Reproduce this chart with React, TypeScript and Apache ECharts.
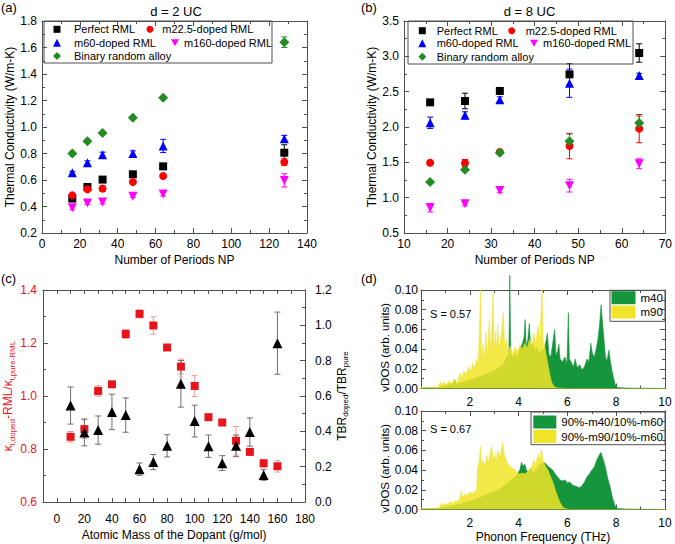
import React, { useEffect, useRef } from 'react';
import * as echarts from 'echarts';

const F = '"Liberation Sans", Arial, Helvetica, sans-serif';
const AX = '#505050';
const C_BLACK = '#000000';
const C_RED = '#ff0000';
const C_BLUE = '#0000ff';
const C_MAG = '#ff00ff';
const C_GREEN = '#238b23';
const C_RED_C = '#e8141c';
const C_GREEN_D = '#15963c';
const C_YELLOW_D = '#f0e428';

// ---------- Panel (a): d = 2 UC ----------
const periodsA = [16, 24, 32, 48, 64, 128];
const aPerfect = [0.46, 0.547, 0.603, 0.643, 0.703, 0.806];
const aPerfectErr = [0.01, 0.01, 0.01, 0.01, 0.012, 0.06];
const aM22 = [0.484, 0.53, 0.535, 0.585, 0.63, 0.735];
const aM22Err = [0.015, 0.015, 0.02, 0.01, 0.015, 0.025];
const aM60 = [0.655, 0.73, 0.79, 0.80, 0.857, 0.912];
const aM60Err = [0.01, 0.015, 0.02, 0.02, 0.05, 0.025];
const aM160 = [0.39, 0.426, 0.434, 0.477, 0.494, 0.597];
const aM160Err = [0.015, 0.01, 0.015, 0.01, 0.015, 0.05];
const aBinary = [0.80, 0.892, 0.955, 1.07, 1.22, 1.64];
const aBinaryErr = [0.01, 0.01, 0.01, 0.01, 0.01, 0.04];

// ---------- Panel (b): d = 8 UC ----------
const periodsB = [16, 24, 32, 48, 64];
const bPerfect = [2.349, 2.368, 2.51, 2.745, 3.047];
const bPerfectErr = [0.02, 0.11, 0.03, 0.15, 0.13];
const bM22 = [1.495, 1.49, 1.646, 1.73, 1.977];
const bM22Err = [0.02, 0.05, 0.02, 0.18, 0.2];
const bM60 = [2.06, 2.165, 2.387, 2.62, 2.73];
const bM60Err = [0.08, 0.05, 0.04, 0.2, 0.03];
const bM160 = [0.858, 0.915, 1.10, 1.17, 1.48];
const bM160Err = [0.06, 0.03, 0.03, 0.09, 0.07];
const bBinary = [1.222, 1.396, 1.637, 1.80, 2.055];
const bBinaryErr = [0.02, 0.02, 0.02, 0.1, 0.1];

// ---------- Panel (c) ----------
const massC = [10, 20, 30, 40, 50, 60, 70, 80, 90, 100, 110, 120, 130, 140, 150, 160];
const cKappa = [0.846, 0.875, 1.019, 1.044, 1.234, 1.31, 1.266, 1.183, 1.111, 1.038, 0.92, 0.90, 0.831, 0.789, 0.746, 0.735];
const cKappaErr = [0.02, 0.035, 0.02, 0.008, 0.017, 0.015, 0.033, 0.01, 0.028, 0.04, 0.008, 0.008, 0.054, 0.006, 0.014, 0.022];
const cTbr = [0.546, 0.394, 0.407, 0.51, 0.492, 0.186, 0.226, 0.318, 0.669, 0.458, 0.316, 0.22, 0.318, 0.396, 0.153, 0.899];
const cTbrErr = [0.105, 0.076, 0.08, 0.10, 0.097, 0.035, 0.043, 0.063, 0.132, 0.09, 0.063, 0.042, 0.061, 0.08, 0.03, 0.176];

// ---------- Panel (d): vDOS spectra [THz, value] ----------
const dTopM40 = [[0,0.0005],[0.7,0.001],[0.9,0.002],[1.1,0.003],[1.3,0.005],[1.38,0.009],[1.45,0.004],[1.6,0.006],[1.8,0.007],[2.0,0.009],[2.2,0.01],[2.4,0.012],[2.6,0.014],[2.8,0.016],[3.0,0.018],[3.2,0.021],[3.4,0.025],[3.5,0.032],[3.6,0.034],[3.64,0.115],[3.68,0.036],[3.75,0.031],[3.85,0.036],[3.95,0.03],[4.05,0.04],[4.15,0.045],[4.22,0.052],[4.27,0.07],[4.31,0.042],[4.38,0.05],[4.44,0.066],[4.5,0.04],[4.58,0.046],[4.65,0.038],[4.75,0.042],[4.85,0.035],[4.95,0.04],[5.05,0.038],[5.12,0.048],[5.18,0.056],[5.24,0.035],[5.32,0.032],[5.42,0.05],[5.48,0.06],[5.53,0.034],[5.6,0.038],[5.65,0.045],[5.7,0.03],[5.8,0.027],[5.9,0.032],[5.98,0.025],[6.04,0.077],[6.08,0.03],[6.15,0.027],[6.25,0.022],[6.32,0.03],[6.4,0.021],[6.5,0.024],[6.6,0.019],[6.7,0.022],[6.8,0.03],[6.88,0.027],[6.96,0.046],[7.02,0.036],[7.1,0.032],[7.18,0.04],[7.25,0.05],[7.32,0.065],[7.38,0.085],[7.43,0.07],[7.5,0.05],[7.56,0.032],[7.62,0.028],[7.7,0.039],[7.76,0.028],[7.83,0.018],[7.9,0.01],[7.96,0.004],[8.05,0.001],[8.4,0.0005],[10,0]];
const dTopM90 = [[0,0.001],[0.4,0.001],[0.7,0.0015],[0.8,0.007],[0.85,0.004],[0.95,0.006],[1.05,0.004],[1.15,0.008],[1.25,0.005],[1.35,0.009],[1.45,0.006],[1.55,0.011],[1.62,0.016],[1.68,0.01],[1.75,0.018],[1.85,0.014],[1.95,0.022],[2.05,0.017],[2.12,0.026],[2.2,0.02],[2.28,0.03],[2.35,0.024],[2.44,0.1],[2.48,0.03],[2.54,0.045],[2.6,0.028],[2.66,0.057],[2.72,0.032],[2.8,0.07],[2.86,0.035],[2.95,0.097],[3.0,0.04],[3.06,0.058],[3.1,0.036],[3.14,0.066],[3.2,0.04],[3.28,0.052],[3.37,0.077],[3.43,0.042],[3.5,0.05],[3.56,0.036],[3.65,0.043],[3.75,0.035],[3.85,0.042],[3.95,0.037],[4.05,0.044],[4.15,0.04],[4.25,0.046],[4.35,0.041],[4.45,0.05],[4.55,0.043],[4.63,0.056],[4.7,0.045],[4.8,0.064],[4.87,0.048],[4.96,0.1],[5.0,0.05],[5.06,0.044],[5.12,0.036],[5.2,0.025],[5.28,0.014],[5.36,0.006],[5.45,0.002],[5.6,0.0005],[6,0],[10,0]];
const dBotM40 = [[0,0.0005],[0.7,0.001],[0.9,0.002],[1.1,0.003],[1.3,0.004],[1.5,0.005],[1.7,0.006],[1.9,0.008],[2.1,0.009],[2.3,0.011],[2.5,0.013],[2.7,0.015],[2.9,0.017],[3.1,0.019],[3.3,0.022],[3.5,0.026],[3.7,0.03],[3.9,0.034],[4.05,0.04],[4.12,0.048],[4.18,0.044],[4.25,0.046],[4.32,0.04],[4.4,0.038],[4.5,0.042],[4.6,0.037],[4.7,0.04],[4.8,0.043],[4.9,0.046],[5.0,0.048],[5.1,0.047],[5.2,0.044],[5.3,0.042],[5.4,0.04],[5.5,0.036],[5.6,0.033],[5.7,0.03],[5.8,0.029],[5.9,0.03],[6.0,0.027],[6.1,0.028],[6.2,0.025],[6.3,0.024],[6.4,0.023],[6.5,0.022],[6.6,0.024],[6.7,0.028],[6.8,0.033],[6.9,0.036],[7.0,0.04],[7.1,0.043],[7.2,0.05],[7.3,0.055],[7.38,0.058],[7.45,0.052],[7.55,0.044],[7.65,0.032],[7.75,0.023],[7.85,0.012],[7.95,0.004],[8.05,0.001],[8.4,0.0005],[10,0]];
const dBotM90 = [[0,0.001],[0.5,0.001],[0.75,0.002],[0.8,0.006],[0.9,0.004],[1.0,0.006],[1.1,0.005],[1.2,0.008],[1.3,0.006],[1.4,0.009],[1.5,0.008],[1.6,0.012],[1.65,0.02],[1.7,0.012],[1.8,0.016],[1.9,0.014],[2.0,0.018],[2.1,0.016],[2.2,0.018],[2.28,0.02],[2.32,0.042],[2.38,0.048],[2.44,0.064],[2.48,0.045],[2.55,0.05],[2.62,0.044],[2.7,0.055],[2.76,0.047],[2.84,0.058],[2.9,0.065],[2.95,0.05],[3.02,0.056],[3.08,0.048],[3.15,0.06],[3.22,0.052],[3.28,0.058],[3.35,0.068],[3.42,0.055],[3.5,0.05],[3.58,0.046],[3.66,0.044],[3.75,0.042],[3.85,0.04],[3.95,0.037],[4.05,0.036],[4.15,0.037],[4.25,0.036],[4.35,0.038],[4.45,0.04],[4.55,0.044],[4.62,0.05],[4.7,0.046],[4.8,0.056],[4.87,0.05],[4.93,0.061],[5.0,0.05],[5.1,0.044],[5.2,0.04],[5.3,0.034],[5.4,0.028],[5.5,0.02],[5.6,0.013],[5.7,0.007],[5.8,0.003],[5.9,0.001],[6.1,0],[10,0]];

const DOWN_TRI = 'path://M0,0L10,0L5,8.66Z';

const errRender = (color: string, half: number) => (params: any, api: any) => {
  const x = api.value(0), y = api.value(1), e = api.value(2);
  const p1 = api.coord([x, y + e]);
  const p2 = api.coord([x, y - e]);
  const style = { stroke: color, lineWidth: 1, fill: 'none' };
  return {
    type: 'group',
    children: [
      { type: 'line', shape: { x1: p1[0], y1: p1[1], x2: p2[0], y2: p2[1] }, style },
      { type: 'line', shape: { x1: p1[0] - half, y1: p1[1], x2: p1[0] + half, y2: p1[1] }, style },
      { type: 'line', shape: { x1: p2[0] - half, y1: p2[1], x2: p2[0] + half, y2: p2[1] }, style },
    ],
  };
};

const errSeries = (xs: number[], ys: number[], es: number[], color: string, xi: number, yi: number, half = 3) => ({
  type: 'custom',
  xAxisIndex: xi,
  yAxisIndex: yi,
  silent: true,
  z: 2,
  renderItem: errRender(color, half),
  encode: { x: 0, y: 1 },
  data: xs.map((x, i) => [x, ys[i], es[i]]),
});

const scatter = (name: string, xs: number[], ys: number[], symbol: string, size: number, color: string, xi: number, yi: number) => ({
  type: 'scatter',
  name,
  xAxisIndex: xi,
  yAxisIndex: yi,
  symbol,
  symbolSize: size,
  itemStyle: { color, opacity: 1 },
  z: 3,
  data: xs.map((x, i) => [x, ys[i]]),
});

const AL = { show: true, onZero: false, lineStyle: { color: AX, width: 1 } };
const TK = (len = 5) => ({ show: true, inside: true, length: len, lineStyle: { color: AX } });
const MT = { show: true, splitNumber: 2, length: 3, lineStyle: { color: AX } };
const lbl = (extra: any = {}) => ({ color: '#000', fontSize: 12, fontFamily: F, ...extra });
const NT = { color: '#000', fontSize: 12, fontFamily: F };

const valAx = (grid: number, min: number, max: number, interval: number, position: string, extra: any = {}) => ({
  type: 'value',
  gridIndex: grid,
  min,
  max,
  interval,
  position,
  axisLine: AL,
  axisTick: TK(),
  minorTick: MT,
  splitLine: { show: false },
  minorSplitLine: { show: false },
  ...extra,
});
const mirror = (grid: number, min: number, max: number, interval: number, position: string, extra: any = {}) =>
  valAx(grid, min, max, interval, position, { axisLabel: { show: false }, ...extra });

const fix = (d: number) => (v: number) => v.toFixed(d);

const xAxes = [
  valAx(0, 0, 140, 20, 'bottom', {
    axisLabel: lbl({ margin: 5 }),
    name: 'Number of Periods NP', nameLocation: 'middle', nameGap: 21, nameTextStyle: NT,
  }),
  mirror(0, 0, 140, 20, 'top'),
  valAx(1, 10, 70, 10, 'bottom', {
    axisLabel: lbl({ margin: 5 }),
    name: 'Number of Periods NP', nameLocation: 'middle', nameGap: 21, nameTextStyle: NT,
  }),
  mirror(1, 10, 70, 10, 'top'),
  valAx(2, -10, 180, 10, 'bottom', {
    minorTick: { show: false },
    axisTick: TK(4),
    axisLabel: lbl({ margin: 11, formatter: (v: number) => (v >= 0 && Math.round(v) % 20 === 0 ? String(Math.round(v)) : '') }),
    name: 'Atomic Mass of the Dopant (g/mol)', nameLocation: 'middle', nameGap: 27, nameTextStyle: NT,
  }),
  mirror(2, -10, 180, 10, 'top', { minorTick: { show: false }, axisTick: TK(4) }),
  valAx(3, 0, 10, 2, 'bottom', {
    axisLabel: lbl({ margin: 7, formatter: (v: number) => (v === 0 ? '' : String(v)) }),
  }),
  mirror(3, 0, 10, 2, 'top'),
  valAx(4, 0, 10, 2, 'bottom', {
    axisLabel: lbl({ margin: 7, formatter: (v: number) => (v === 0 ? '' : String(v)) }),
    name: 'Phonon Frequency (THz)', nameLocation: 'middle', nameGap: 21, nameTextStyle: NT,
  }),
  mirror(4, 0, 10, 2, 'top'),
];

const subRich = (color: string) => ({
  k: { fontSize: 12, lineHeight: 16, color, fontFamily: F },
  s: { fontSize: 8, lineHeight: 8, verticalAlign: 'bottom', color, fontFamily: F },
});

const yAxes = [
  valAx(0, 0.2, 1.8, 0.2, 'left', {
    axisLabel: lbl({ margin: 5, formatter: fix(1) }),
    name: 'Thermal Conductivity (W/m-K)', nameLocation: 'middle', nameGap: 24, nameTextStyle: NT,
  }),
  mirror(0, 0.2, 1.8, 0.2, 'right'),
  valAx(1, 0.5, 3.5, 0.5, 'left', {
    axisLabel: lbl({ margin: 5, formatter: fix(1) }),
    name: 'Thermal Conductivity (W/m-K)', nameLocation: 'middle', nameGap: 24, nameTextStyle: NT,
  }),
  mirror(1, 0.5, 3.5, 0.5, 'right'),
  valAx(2, 0.6, 1.4, 0.2, 'left', {
    axisLabel: lbl({ margin: 6, color: C_RED_C, formatter: fix(1) }),
    name: '{k|κ}{s|l,doped}{k|-RML/κ}{s|l,pure-RML}', nameLocation: 'middle', nameGap: 27,
    nameTextStyle: { color: C_RED_C, fontSize: 12, fontFamily: F, rich: subRich(C_RED_C) },
  }),
  valAx(2, 0, 1.2, 0.2, 'right', {
    axisLabel: lbl({ margin: 10, formatter: fix(1) }),
    name: '{k|TBR}{s|doped}{k|/TBR}{s|pure}', nameLocation: 'middle', nameGap: 26,
    nameTextStyle: { color: '#000', fontSize: 12, fontFamily: F, rich: subRich('#000') },
  }),
  valAx(3, 0, 0.1, 0.02, 'left', {
    axisLabel: lbl({ margin: 3, formatter: fix(2) }),
    name: 'vDOS (arb. units)', nameLocation: 'middle', nameGap: 8,
    nameTextStyle: { ...NT, fontSize: 11.5, padding: [0, 16, 0, 0] },
  }),
  mirror(3, 0, 0.1, 0.02, 'right'),
  valAx(4, 0, 0.1, 0.02, 'left', {
    axisLabel: lbl({ margin: 3, formatter: fix(2) }),
    name: 'vDOS (arb. units)', nameLocation: 'middle', nameGap: 8,
    nameTextStyle: { ...NT, fontSize: 11.5, padding: [0, 16, 0, 0] },
  }),
  mirror(4, 0, 0.1, 0.02, 'right'),
];

const legendItem = (name: string, icon: string, size: number, left: number, centerY: number, pad: number) => ({
  data: [{ name, icon }],
  left,
  top: centerY - 6.5,
  padding: 0,
  itemWidth: size,
  itemHeight: size,
  selectedMode: false,
  textStyle: { fontSize: 11, fontFamily: F, color: '#000', lineHeight: 13, padding: [0, 0, 0, pad] },
});

const legends = [
  legendItem('Perfect RML', 'rect', 7, 53.5, 29.3, 8.5),
  legendItem('m60-doped RML', 'triangle', 8, 53, 42.7, 8),
  legendItem('Binary random alloy', 'diamond', 8, 53, 56, 8),
  legendItem('m22.5-doped RML', 'circle', 7, 146.5, 29.3, 3.8),
  legendItem('m160-doped RML', DOWN_TRI, 8, 171, 42.7, 0),
  legendItem('Perfect RML', 'rect', 7, 418.8, 30.7, 5.9),
  legendItem('m60-doped RML', 'triangle', 8, 418.3, 43.3, 5.4),
  legendItem('Binary random alloy', 'diamond', 8, 418.3, 56.7, 5.4),
  legendItem('m22.5-doped RML', 'circle', 7, 508.2, 30.7, 5.5),
  legendItem('m160-doped RML', DOWN_TRI, 8, 530, 43.3, 0),
  {
    data: [{ name: 'm40', icon: 'rect' }, { name: 'm90', icon: 'rect' }],
    orient: 'vertical', left: 611.5, top: 291.2, padding: 0, itemWidth: 24, itemHeight: 13, itemGap: 1.3,
    selectedMode: false,
    textStyle: { fontSize: 11.5, fontFamily: F, color: '#000', lineHeight: 13 },
  },
  {
    data: [{ name: '90%-m40/10%-m60', icon: 'rect' }, { name: '90%-m90/10%-m60', icon: 'rect' }],
    orient: 'vertical', left: 533.3, top: 415.5, padding: 0, itemWidth: 23, itemHeight: 13, itemGap: 1.5,
    selectedMode: false,
    textStyle: { fontSize: 11.5, fontFamily: F, color: '#000', lineHeight: 13 },
  },
];

const areaSeries = (name: string, data: number[][], color: string, opacity: number, xi: number, yi: number, z: number, clip = true) => ({
  type: 'line',
  name,
  xAxisIndex: xi,
  yAxisIndex: yi,
  data,
  symbol: 'none',
  showSymbol: false,
  clip,
  z,
  itemStyle: { color },
  lineStyle: { color, width: 0.6, opacity },
  areaStyle: { color, opacity },
});

const panelSeries = (xs: number[], sets: any[], xi: number, yi: number) => {
  const out: any[] = [];
  sets.forEach((s) => {
    out.push(errSeries(xs, s.v, s.e, s.color, xi, yi, 3));
    out.push(scatter(s.name, xs, s.v, s.symbol, s.size, s.color, xi, yi));
  });
  return out;
};

const setsA = [
  { name: 'Perfect RML', v: aPerfect, e: aPerfectErr, color: C_BLACK, symbol: 'rect', size: 8 },
  { name: 'm22.5-doped RML', v: aM22, e: aM22Err, color: C_RED, symbol: 'circle', size: 8 },
  { name: 'm60-doped RML', v: aM60, e: aM60Err, color: C_BLUE, symbol: 'triangle', size: 9 },
  { name: 'm160-doped RML', v: aM160, e: aM160Err, color: C_MAG, symbol: DOWN_TRI, size: 9 },
  { name: 'Binary random alloy', v: aBinary, e: aBinaryErr, color: C_GREEN, symbol: 'diamond', size: 10 },
];
const setsB = [
  { name: 'Perfect RML', v: bPerfect, e: bPerfectErr, color: C_BLACK, symbol: 'rect', size: 8 },
  { name: 'm22.5-doped RML', v: bM22, e: bM22Err, color: C_RED, symbol: 'circle', size: 8 },
  { name: 'm60-doped RML', v: bM60, e: bM60Err, color: C_BLUE, symbol: 'triangle', size: 9 },
  { name: 'm160-doped RML', v: bM160, e: bM160Err, color: C_MAG, symbol: DOWN_TRI, size: 9 },
  { name: 'Binary random alloy', v: bBinary, e: bBinaryErr, color: C_GREEN, symbol: 'diamond', size: 10 },
];

const series: any[] = [
  ...panelSeries(periodsA, setsA, 0, 0),
  ...panelSeries(periodsB, setsB, 2, 2),
  errSeries(massC, cKappa, cKappaErr, '#f29a9a', 4, 4, 3),
  scatter('κ ratio', massC, cKappa, 'rect', 8, C_RED_C, 4, 4),
  errSeries(massC, cTbr, cTbrErr, '#6e6e6e', 4, 5, 3),
  scatter('TBR ratio', massC, cTbr, 'triangle', 10, C_BLACK, 4, 5),
  areaSeries('m40', dTopM40, C_GREEN_D, 1, 6, 6, 2, false),
  areaSeries('m90', dTopM90, C_YELLOW_D, 0.85, 6, 6, 3),
  areaSeries('90%-m40/10%-m60', dBotM40, C_GREEN_D, 1, 8, 8, 2),
  areaSeries('90%-m90/10%-m60', dBotM90, C_YELLOW_D, 0.85, 8, 8, 3),
];

const txt = (text: string, x: number, y: number, size: number, align = 'center', color = '#000') => ({
  type: 'text',
  x,
  y,
  silent: true,
  style: { text, fontSize: size, fontFamily: F, fill: color, textAlign: align, textVerticalAlign: 'middle' },
});
const box = (x: number, y: number, w: number, h: number) => ({
  type: 'rect',
  silent: true,
  z: 10,
  shape: { x, y, width: w, height: h },
  style: { fill: 'none', stroke: AX, lineWidth: 1 },
});

const option: any = {
  animation: false,
  backgroundColor: '#ffffff',
  textStyle: { fontFamily: F },
  grid: [
    { left: 42, top: 21, width: 265, height: 212 },
    { left: 404, top: 21, width: 264, height: 212 },
    { left: 43, top: 290, width: 262, height: 212 },
    { left: 421, top: 290, width: 244, height: 98.5 },
    { left: 421, top: 411, width: 244, height: 98.5 },
  ],
  xAxis: xAxes,
  yAxis: yAxes,
  legend: legends,
  series,
  graphic: [
    txt('(a)', 1, 7, 13, 'left'),
    txt('(b)', 361, 7, 13, 'left'),
    txt('(c)', 1, 278, 13, 'left'),
    txt('(d)', 361, 278, 13, 'left'),
    txt('d = 2 UC', 176, 11.5, 13),
    txt('d = 8 UC', 529.5, 11.5, 13),
    txt('S = 0.57', 430, 314, 11, 'left'),
    txt('S = 0.67', 430, 428.5, 11, 'left'),
    box(44, 21, 228, 42),
    box(408, 21, 225, 43),
    box(610, 290.3, 55, 31),
    box(531, 412, 134, 32.7),
  ],
};

export default function App() {
  const ref = useRef<HTMLDivElement>(null);
  useEffect(() => {
    const chart = echarts.init(ref.current as HTMLDivElement, null, { renderer: 'svg' });
    chart.setOption(option);
    return () => chart.dispose();
  }, []);
  return (
    <div
      ref={ref}
      style={{ position: 'fixed', left: 0, top: 0, width: 675, height: 544, background: '#fff' }}
    />
  );
}
